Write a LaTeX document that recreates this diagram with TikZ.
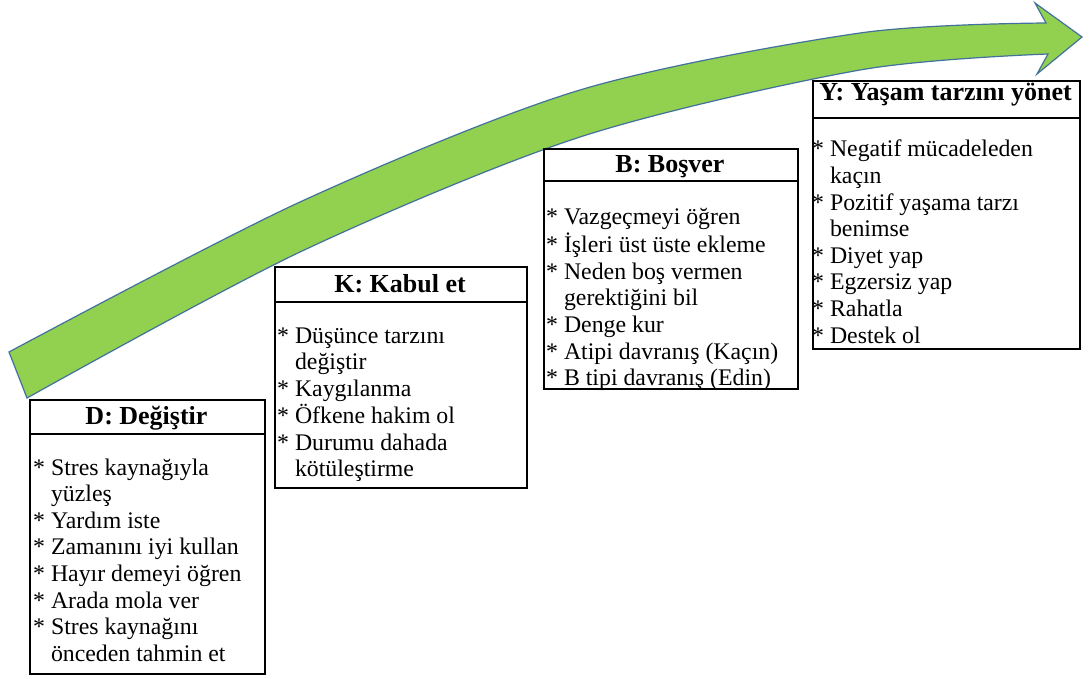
\documentclass[tikz,border=0pt]{standalone}
\usepackage{fontspec}
\setmainfont{Liberation Serif}

\definecolor{arrowgreen}{HTML}{92D050}
\definecolor{arrowedge}{HTML}{41719C}

\newcommand\bodyfont{\fontsize{23.8}{26.6}\selectfont}
\newcommand\titlefont{\fontsize{26}{30}\selectfont\bfseries}
% bullet and continuation-line prefixes
\newcommand\itm{*\ }
\newcommand\cnt{\hphantom{*}\ }

\begin{document}
\begin{tikzpicture}[x=1pt,y=-1pt,
  panel/.style={draw=black, fill=white, line width=2.4pt, inner sep=0pt, anchor=north west},
  heading/.style={font=\titlefont, inner sep=0pt, anchor=base},
  points/.style={font=\bodyfont, inner sep=0pt, anchor=base west},
]
\useasboundingbox (0,0) rectangle (1089,679);

% rising curved arrow
\draw[fill=arrowgreen, draw=arrowedge, line width=1.2pt, line join=miter]
  plot[smooth] coordinates {(9,352) (300,202) (580,90) (860,33) (1046,23)}
  -- (1035,3) -- (1082,37) -- (1037,74) -- (1048,54)
  -- plot[smooth] coordinates {(1048,54) (860,70) (580,137) (300,252) (27,398)}
  -- cycle;

% D panel
\node[panel, minimum width=235pt, minimum height=274pt] (Dbox) at (29,399) {};
\node[panel, minimum width=235pt, minimum height=34pt] (Dhead) at (29,399) {};
\node[heading] (Dtitle) at (146.5,424) {D: Değiştir};
\node[points] (Dlist) at (33,475) {\begin{tabular}[t]{@{}l@{}}
\itm Stres kaynağıyla\\
\cnt yüzleş\\
\itm Yardım iste\\
\itm Zamanını iyi kullan\\
\itm Hayır demeyi öğren\\
\itm Arada mola ver\\
\itm Stres kaynağını\\
\cnt önceden tahmin et
\end{tabular}};

% K panel
\node[panel, minimum width=252pt, minimum height=221pt] (Kbox) at (274,266) {};
\node[panel, minimum width=252pt, minimum height=35pt] (Khead) at (274,266) {};
\node[heading] (Ktitle) at (400,292) {K: Kabul et};
\node[points] (Klist) at (277,343) {\begin{tabular}[t]{@{}l@{}}
\itm Düşünce tarzını\\
\cnt değiştir\\
\itm Kaygılanma\\
\itm Öfkene hakim ol\\
\itm Durumu dahada\\
\cnt kötüleştirme
\end{tabular}};

% B panel
\node[panel, minimum width=254pt, minimum height=240pt] (Bbox) at (543,148) {};
\node[panel, minimum width=254pt, minimum height=32pt] (Bhead) at (543,148) {};
\node[heading] (Btitle) at (670,173) {B: Boşver};
\node[points] (Blist) at (546,225) {\begin{tabular}[t]{@{}l@{}}
\itm Vazgeçmeyi öğren\\
\itm İşleri üst üste ekleme\\
\itm Neden boş vermen\\
\cnt gerektiğini bil\\
\itm Denge kur\\
\itm Atipi davranış (Kaçın)\\
\itm B tipi davranış (Edin)
\end{tabular}};

% Y panel
\node[panel, minimum width=267pt, minimum height=268pt] (Ybox) at (812,80) {};
\node[panel, minimum width=267pt, minimum height=37pt] (Yhead) at (812,80) {};
\node[heading] (Ytitle) at (945.5,101) {Y: Yaşam tarzını yönet};
\node[points] (Ylist) at (812,157) {\begin{tabular}[t]{@{}l@{}}
\itm Negatif mücadeleden\\
\cnt kaçın\\
\itm Pozitif yaşama tarzı\\
\cnt benimse\\
\itm Diyet yap\\
\itm Egzersiz yap\\
\itm Rahatla\\
\itm Destek ol
\end{tabular}};
\end{tikzpicture}
\end{document}
